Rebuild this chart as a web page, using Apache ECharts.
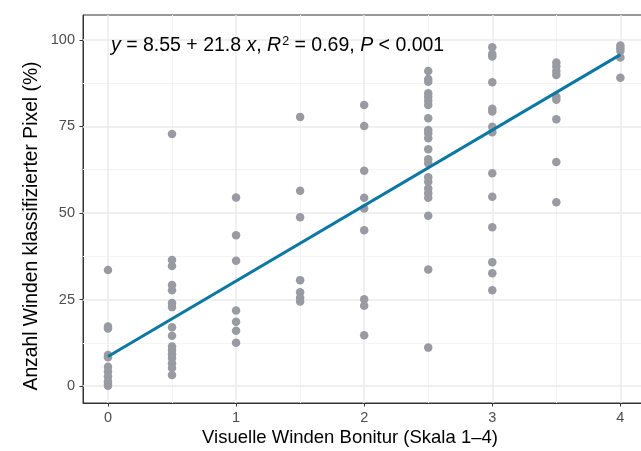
<!DOCTYPE html>
<html><head><meta charset="utf-8">
<script src="https://cdn.jsdelivr.net/npm/echarts@6/dist/echarts.min.js"></script>
<style>html,body{margin:0;padding:0;background:#fff}#c{width:641px;height:451px}</style>
</head><body><div id="c"></div>
<script>
// Data: y values (%) per visual score
const scores = [0, 0.5, 1, 1.5, 2, 2.5, 3, 3.5, 4];
const y_0   = [33.5, 17.2, 16.6, 9.0, 8.3, 5.6, 4.2, 2.8, 1.4, 0.6, 0.1];
const y_05  = [72.8, 36.4, 34.7, 29.2, 27.7, 24.0, 22.8, 17.0, 14.5, 11.4, 10.4, 9.2, 8.1, 6.6, 5.2, 3.2];
const y_1   = [54.5, 43.6, 36.2, 21.8, 18.6, 16.0, 12.5];
const y_15  = [77.7, 56.4, 48.8, 30.6, 27.1, 25.5, 24.4];
const y_2   = [81.2, 75.1, 62.2, 54.4, 51.3, 45.0, 25.1, 23.2, 14.7];
const y_25  = [91.0, 88.7, 87.9, 84.6, 83.6, 82.4, 81.2, 77.4, 74.0, 73.0, 71.6, 68.4, 65.5, 64.4, 60.3, 59.0, 57.1, 55.7, 54.4, 49.2, 33.7, 11.1];
const y_3   = [97.9, 95.9, 95.2, 87.8, 80.1, 79.3, 74.9, 73.3, 61.5, 54.7, 45.9, 35.8, 32.6, 27.7];
const y_35  = [93.5, 92.3, 91.0, 89.9, 83.6, 82.7, 77.1, 64.7, 53.1];
const y_4   = [98.4, 97.6, 96.8, 94.9, 89.1];
const groups = [y_0, y_05, y_1, y_15, y_2, y_25, y_3, y_35, y_4];

// Regression line endpoints (y = 8.55 + 21.8 x)
const fitX = [0, 4];
const fitY = [8.55, 95.75];

// Ticks
const xTicks = [0, 1, 2, 3, 4];
const yTicks = [0, 25, 50, 75, 100];
const xMinor = [0.5, 1.5, 2.5, 3.5];
const yMinor = [12.5, 37.5, 62.5, 87.5];

const xTitle = 'Visuelle Winden Bonitur (Skala 1\u20134)';
const yTitle = 'Anzahl Winden klassifizierter Pixel (%)';

const points = [];
groups.forEach((g, i) => g.forEach(v => points.push([scores[i], v])));
const fitData = fitX.map((x, i) => [x, fitY[i]]);

const FONT = 'Liberation Sans';
const chart = echarts.init(document.getElementById('c'), null, {renderer: 'canvas'});

const gridLines = [];
xMinor.forEach(v => gridLines.push({xAxis: v, lineStyle: {color: '#f4f4f4', width: 1, type: 'solid'}}));
yMinor.forEach(v => gridLines.push({yAxis: v, lineStyle: {color: '#f4f4f4', width: 1, type: 'solid'}}));
xTicks.forEach(v => gridLines.push({xAxis: v, lineStyle: {color: '#ebebeb', width: 1.5, type: 'solid'}}));
yTicks.forEach(v => gridLines.push({yAxis: v, lineStyle: {color: '#ebebeb', width: 1.5, type: 'solid'}}));

chart.setOption({
  animation: false,
  backgroundColor: '#ffffff',
  textStyle: {fontFamily: FONT},
  grid: {left: 83, top: 15, width: 563, height: 388, outerBoundsMode: 'none', containLabel: false,
         show: true, borderColor: '#333333', borderWidth: 1, backgroundColor: '#ffffff'},
  xAxis: {
    type: 'value', min: -0.195, max: 4.2,
    axisLine: {show: true, onZero: false, lineStyle: {color: '#333333', width: 1}},
    axisTick: {show: true, length: 3.5, customValues: xTicks, lineStyle: {color: '#333333'}},
    axisLabel: {customValues: xTicks, fontSize: 14.5, color: '#4d4d4d', margin: 7, fontFamily: FONT},
    splitLine: {show: false}
  },
  yAxis: {
    type: 'value', min: -4.9, max: 107.2,
    axisLine: {show: true, onZero: false, lineStyle: {color: '#333333', width: 1}},
    axisTick: {show: true, length: 3.5, customValues: yTicks, lineStyle: {color: '#333333'}},
    axisLabel: {customValues: yTicks, fontSize: 14.5, color: '#4d4d4d', margin: 8, fontFamily: FONT},
    splitLine: {show: false}
  },
  series: [
    {
      type: 'line', data: [], z: 1, silent: true,
      markLine: {z: 1, silent: true, symbol: 'none', label: {show: false}, animation: false, data: gridLines}
    },
    {
      type: 'scatter', data: points, symbolSize: 8.5, z: 3,
      itemStyle: {color: '#9a9ba2', opacity: 1}
    },
    {
      type: 'line', data: fitData, symbol: 'none', z: 4,
      lineStyle: {color: '#0a78a3', width: 3}
    }
  ],
  graphic: [
    {
      type: 'text', left: 111, top: 35, z: 10,
      style: {
        text: '{i|y} = 8.55 + 21.8 {i|x}, {i|R}{s|2} = 0.69, {i|P} < 0.001',
        fontFamily: FONT, fontSize: 19.5, fill: '#000',
        rich: {
          i: {fontStyle: 'italic', fontSize: 19.5, fontFamily: FONT, lineHeight: 22},
          s: {fontSize: 12.5, fontFamily: FONT, verticalAlign: 'top', lineHeight: 22, padding: [0, 0, 9, 1]}
        }
      }
    },
    {
      type: 'text', x: 350, y: 438, z: 10,
      style: {text: xTitle, fontFamily: FONT, fontSize: 18.5, fill: '#000', align: 'center', verticalAlign: 'middle'}
    },
    {
      type: 'text', x: 32, y: 226, rotation: Math.PI / 2, z: 10,
      style: {text: yTitle, fontFamily: FONT, fontSize: 19.3, fill: '#000', align: 'center', verticalAlign: 'middle'}
    }
  ]
});
</script></body></html>
